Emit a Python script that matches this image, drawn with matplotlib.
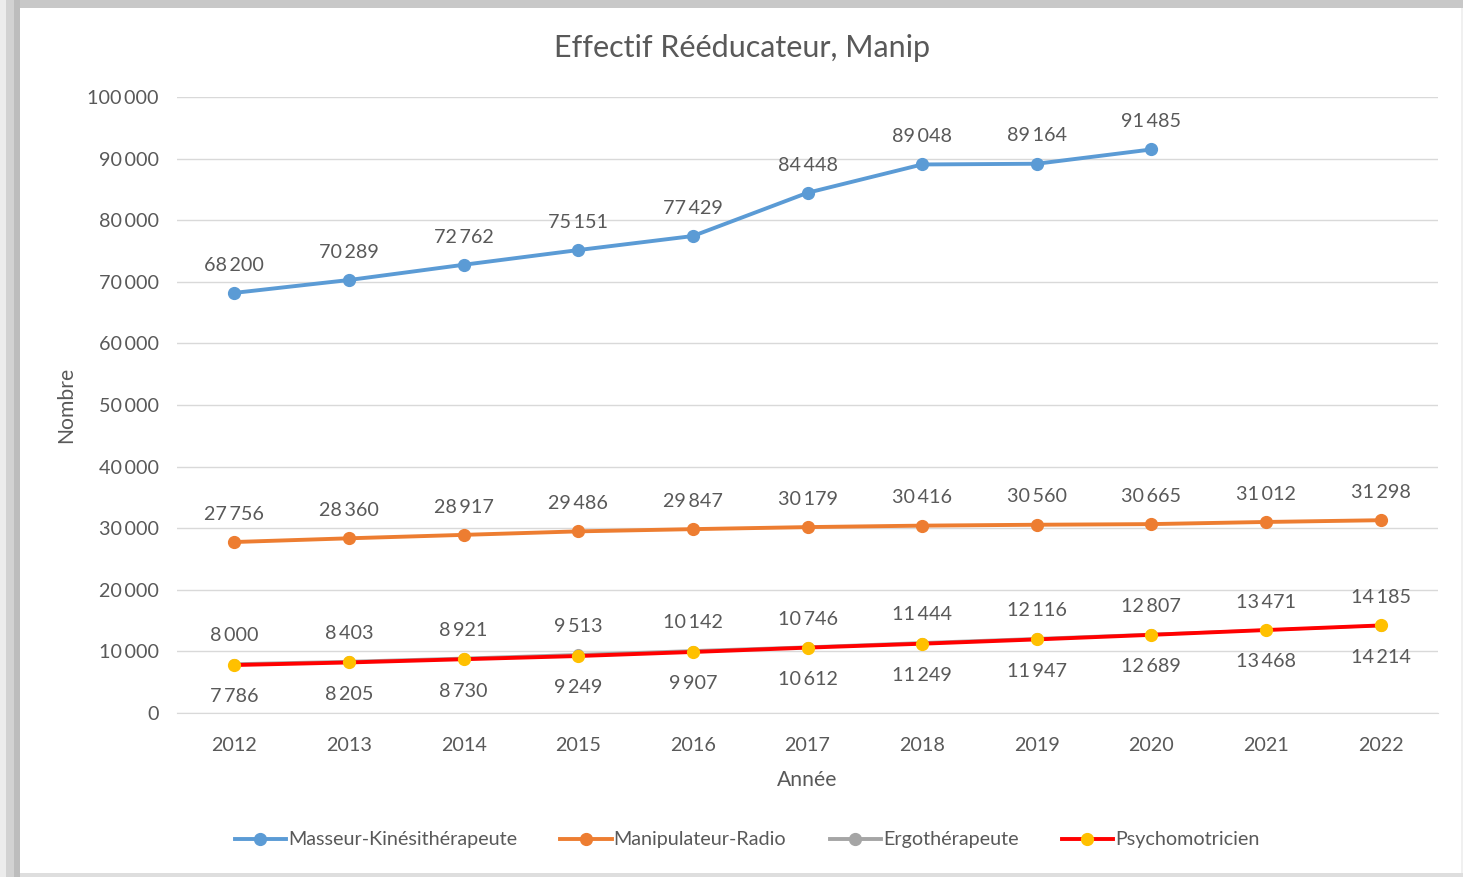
import matplotlib
matplotlib.use("Agg")
import matplotlib.pyplot as plt
from matplotlib.patches import Rectangle
from matplotlib.lines import Line2D

years = [2012, 2013, 2014, 2015, 2016, 2017, 2018, 2019, 2020, 2021, 2022]
masseur = [68200, 70289, 72762, 75151, 77429, 84448, 89048, 89164, 91485, None, None]
manip = [27756, 28360, 28917, 29486, 29847, 30179, 30416, 30560, 30665, 31012, 31298]
ergo = [8000, 8403, 8921, 9513, 10142, 10746, 11444, 12116, 12807, 13471, 14185]
psycho = [7786, 8205, 8730, 9249, 9907, 10612, 11249, 11947, 12689, 13468, 14214]
yticks = [0, 10000, 20000, 30000, 40000, 50000, 60000, 70000, 80000, 90000, 100000]

FONT = ["Lato", "DejaVu Sans"]
plt.rcParams["font.family"] = FONT
TXT = "#595959"
FS = 14.2

W, H = 1463, 877
fig = plt.figure(figsize=(W / 100, H / 100), dpi=100)
fig.patch.set_facecolor("white")

# frame shadow
def frect(x0, y0, w, h, c):
    fig.patches.append(Rectangle((x0 / W, 1 - (y0 + h) / H), w / W, h / H,
                                 transform=fig.transFigure, facecolor=c,
                                 edgecolor="none", zorder=-10))
frect(0, 0, W, H, "#f0f0f0")
frect(8, 0, W - 8, 8, "#c8c8c8")
frect(0, 0, 6, H, "#ececec")
frect(6, 0, 8, H, "#d2d2d2")
frect(14, 0, 6, H, "#bdbdbd")
frect(20, H - 4, W - 20, 4, "#dedede")
frect(20, 8, W - 22, H - 12, "white")

ax = fig.add_axes([177 / W, 1 - 713 / H, (1438 - 177) / W, (713 - 97) / H])
ax.set_facecolor("none")
x = list(range(len(years)))
ax.set_xlim(-0.5, len(years) - 0.5)
ax.set_ylim(0, 100000)
ax.set_yticks(yticks)
ax.set_yticklabels([f"{v:,}".replace(",", "\u2009") for v in yticks])
ax.set_xticks(x)
ax.set_xticklabels([str(y) for y in years])
ax.grid(axis="y", color="#d9d9d9", linewidth=1)
ax.set_axisbelow(True)
for s in ax.spines.values():
    s.set_visible(False)
ax.spines["bottom"].set_visible(True)
ax.spines["bottom"].set_color("#d9d9d9")
ax.tick_params(axis="y", length=0, labelsize=FS, colors=TXT, pad=13)
ax.tick_params(axis="x", length=0, labelsize=FS, colors=TXT, pad=17)

def fmt(v):
    return f"{v:,}".replace(",", "\u2009")

def plot_series(vals, color, mcolor, dy, label, lw=2.8, ms=8.5, z=3):
    xs = [i for i, v in zip(x, vals) if v is not None]
    ys = [v for v in vals if v is not None]
    ax.plot(xs, ys, color=color, lw=lw, marker="o", markersize=ms,
            markerfacecolor=mcolor, markeredgecolor=mcolor, label=label,
            solid_capstyle="round", zorder=z)
    for xi, yi in zip(xs, ys):
        ax.annotate(fmt(yi), (xi, yi), xytext=(0, dy), textcoords="offset points",
                    ha="center", va="center", fontsize=FS, color=TXT)

plot_series(masseur, "#5B9BD5", "#5B9BD5", 20, "Masseur-Kinésithérapeute")
plot_series(manip, "#ED7D31", "#ED7D31", 20, "Manipulateur-Radio")
plot_series(ergo, "#A5A5A5", "#A5A5A5", 20, "Ergothérapeute", lw=2.0, ms=7, z=2)
plot_series(psycho, "#FF0000", "#FFC000", -23, "Psychomotricien", z=4)

ax.set_ylabel("Nombre", fontsize=FS + 1, color=TXT, labelpad=8)
ax.set_xlabel("Année", fontsize=FS + 1, color=TXT, labelpad=12)
fig.text(742 / W, 1 - 48 / H, "Effectif Rééducateur, Manip", ha="center",
         va="center", fontsize=22, color=TXT)

handles = [
    Line2D([], [], color="#5B9BD5", lw=2.8, marker="o", markersize=8.5,
           markerfacecolor="#5B9BD5", markeredgecolor="#5B9BD5"),
    Line2D([], [], color="#ED7D31", lw=2.8, marker="o", markersize=8.5,
           markerfacecolor="#ED7D31", markeredgecolor="#ED7D31"),
    Line2D([], [], color="#A5A5A5", lw=2.8, marker="o", markersize=8.5,
           markerfacecolor="#A5A5A5", markeredgecolor="#A5A5A5"),
    Line2D([], [], color="#FF0000", lw=2.8, marker="o", markersize=8.5,
           markerfacecolor="#FFC000", markeredgecolor="#FFC000"),
]
labels = ["Masseur-Kinésithérapeute", "Manipulateur-Radio", "Ergothérapeute", "Psychomotricien"]
leg = fig.legend(handles, labels, loc="center", bbox_to_anchor=(747 / W, 1 - 840 / H),
                 ncol=4, frameon=False, fontsize=FS, handlelength=2.6,
                 handletextpad=0.1, columnspacing=2.2)
for t in leg.get_texts():
    t.set_color(TXT)

fig.savefig("out.png", dpi=100)
